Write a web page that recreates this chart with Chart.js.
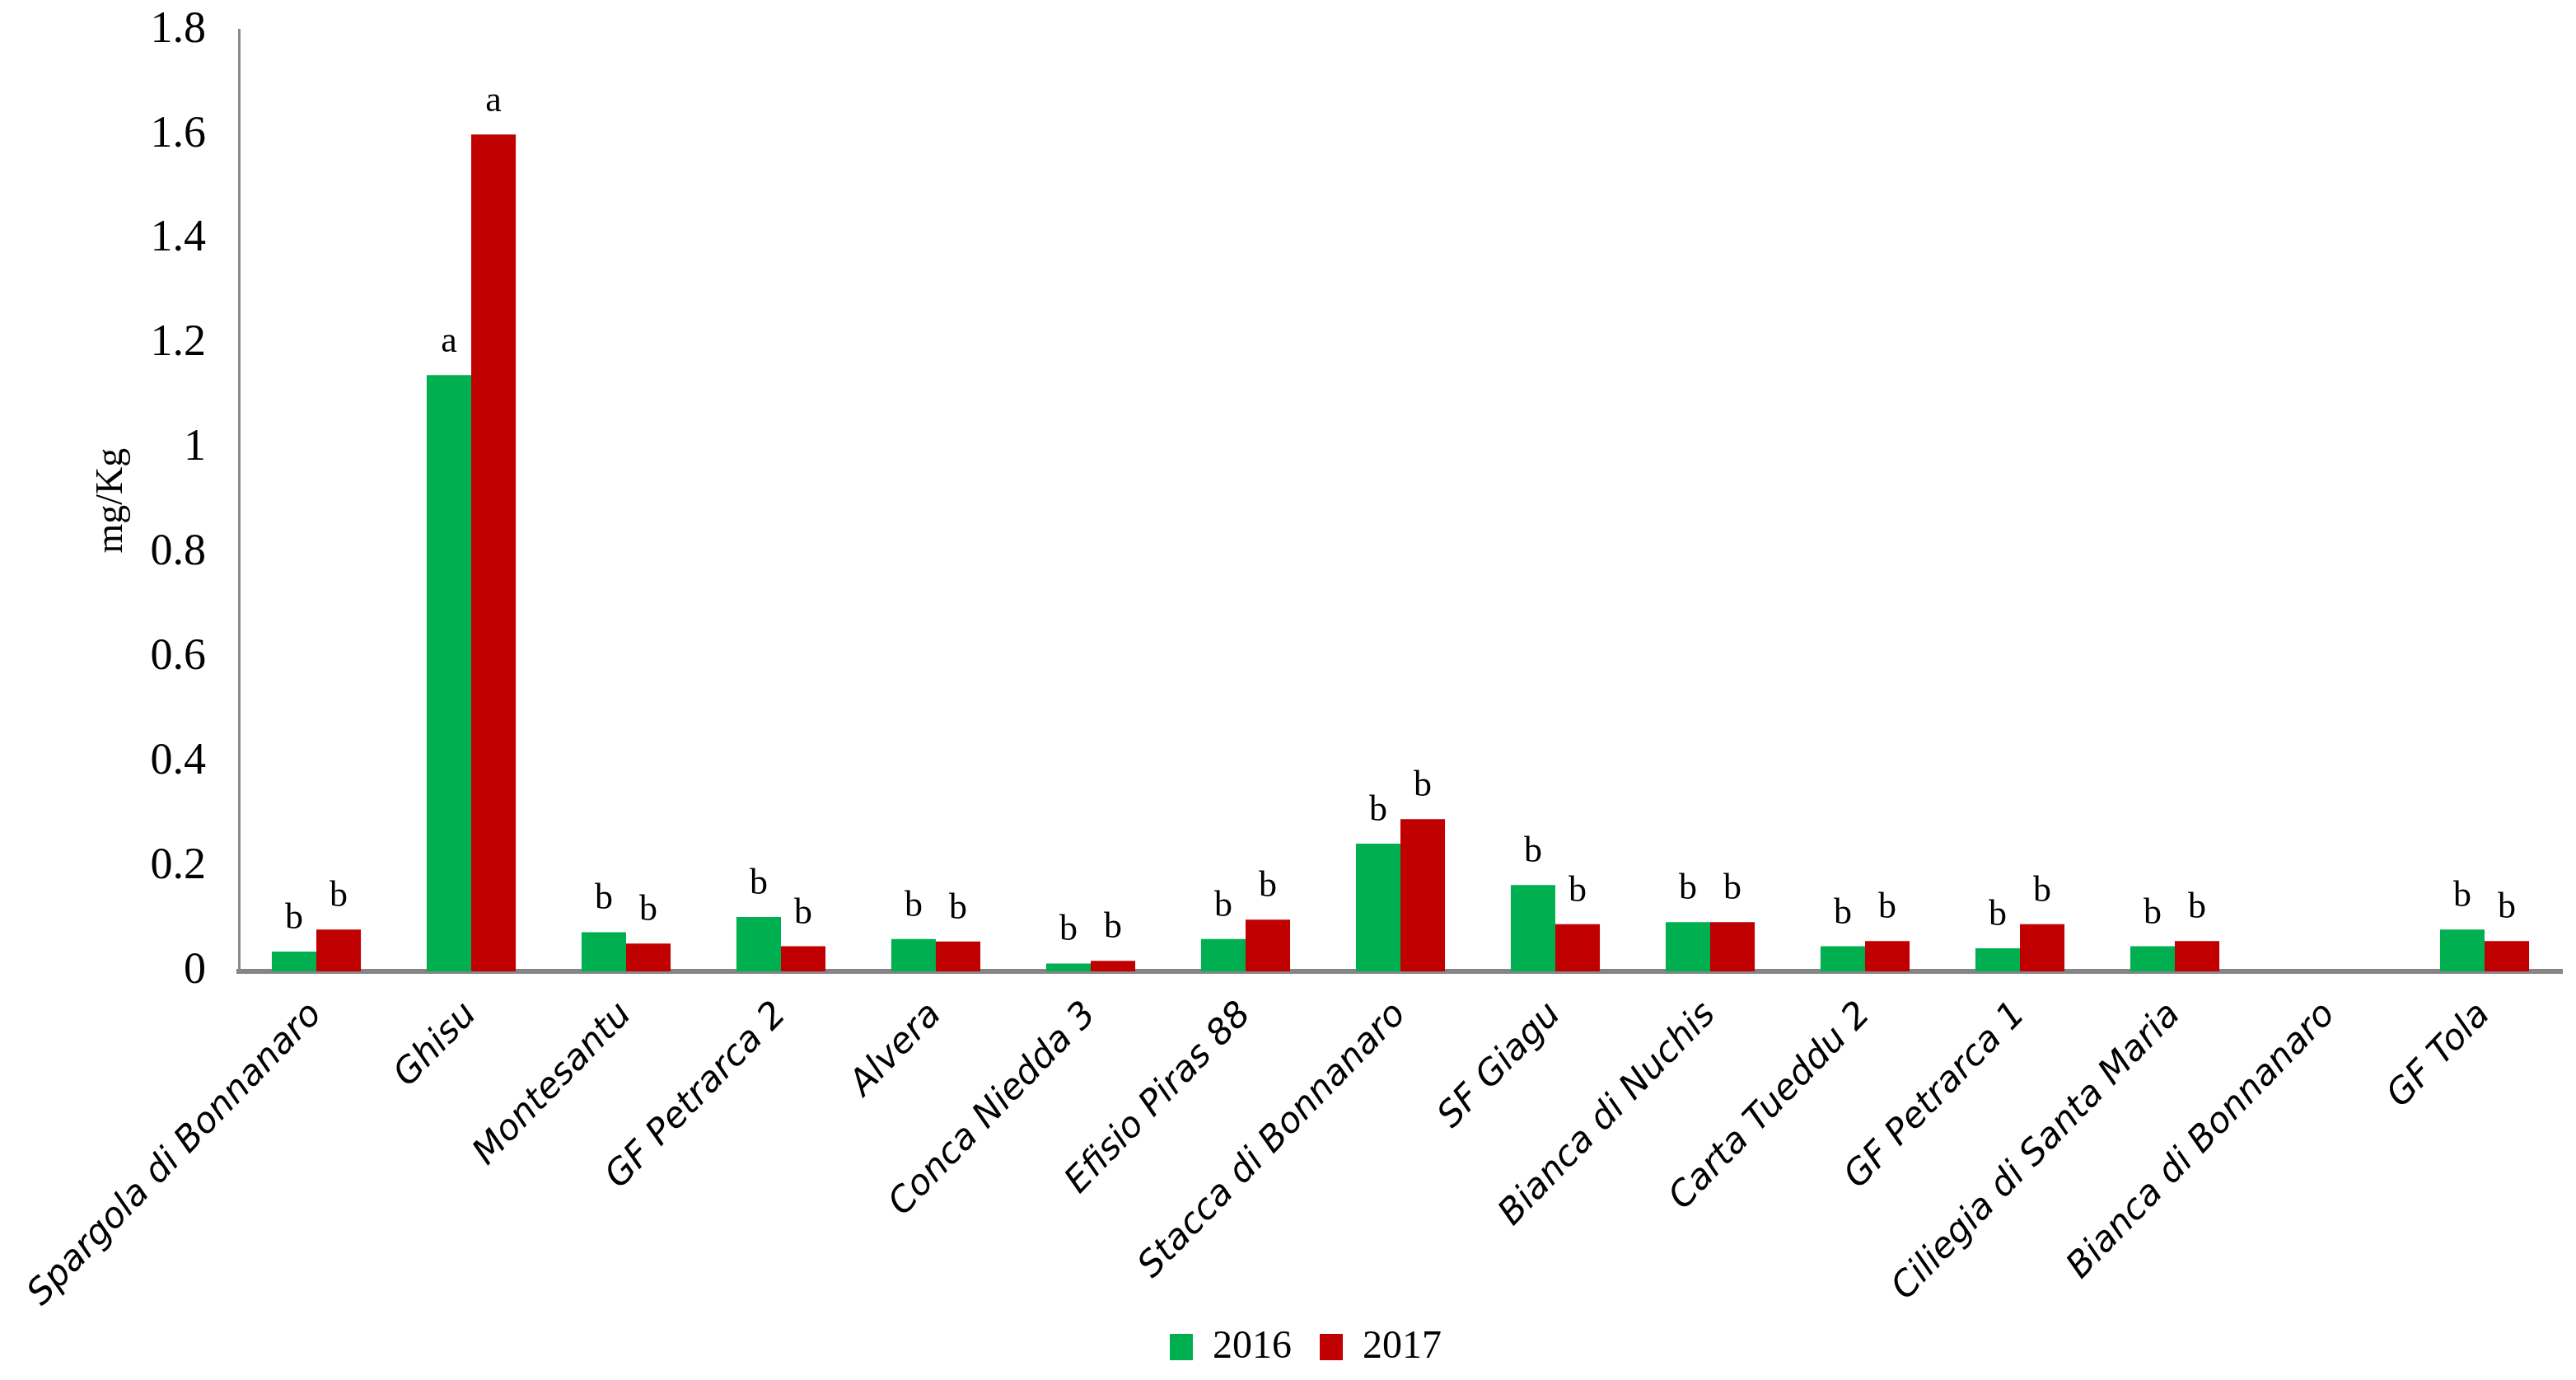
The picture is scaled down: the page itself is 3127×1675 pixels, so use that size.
<!DOCTYPE html>
<html>
<head>
<meta charset="utf-8">
<script src="https://cdn.jsdelivr.net/npm/chart.js@4.4.1/dist/chart.umd.min.js"></script>
<style>
  body { margin: 0; background: #fff; }
  canvas { display: block; }
</style>
</head>
<body>
<canvas id="myChart" width="3127" height="1675"></canvas>
<script>
const categories = ['Spargola di Bonnanaro', 'Ghisu', 'Montesantu', 'GF Petrarca 2', 'Alvera',
  'Conca Niedda 3', 'Efisio Piras 88', 'Stacca di Bonnanaro', 'SF Giagu', 'Bianca di Nuchis',
  'Carta Tueddu 2', 'GF Petrarca 1', 'Ciliegia di Santa Maria', 'Bianca di Bonnanaro', 'GF Tola'];
const values2016 = [0.038, 1.14, 0.075, 0.104, 0.062, 0.015, 0.062, 0.244, 0.165, 0.094, 0.048, 0.044, 0.048, null, 0.080];
const values2017 = [0.080, 1.60, 0.053, 0.048, 0.057, 0.020, 0.099, 0.291, 0.090, 0.094, 0.058, 0.090, 0.058, null, 0.058];
const letters2016 = ['b', 'a', 'b', 'b', 'b', 'b', 'b', 'b', 'b', 'b', 'b', 'b', 'b', '', 'b'];
const letters2017 = ['b', 'a', 'b', 'b', 'b', 'b', 'b', 'b', 'b', 'b', 'b', 'b', 'b', '', 'b'];

const SERIF = '"Liberation Serif", "Times New Roman", serif';

// little letters over each bar
const letterPlugin = {
    id: 'letters',
    afterLayout(chart) {
        // let the long rotated names run down to the legend without being clipped
        chart.scales.x.bottom = chart.height;
        // legend sits a bit right of centre in the original
        chart.legend.left += 20;
        chart.legend.right += 20;
    },
    afterDatasetsDraw(chart) {
        const ctx = chart.ctx;
        ctx.save();
        ctx.font = '44px ' + SERIF;
        ctx.fillStyle = '#000';
        ctx.textAlign = 'center';
        ctx.textBaseline = 'alphabetic';
        [letters2016, letters2017].forEach((lt, i) => {
            chart.getDatasetMeta(i).data.forEach((bar, j) => {
                if (!lt[j]) return;
                ctx.fillText(lt[j], bar.x, bar.y - 28);
            });
        });
        ctx.restore();
    }
};

const CTX = document.getElementById('myChart').getContext('2d');
const CONFIG = {
    type: 'bar',
    data: {
        labels: categories,
        datasets: [{
            label: '2016',
            data: values2016,
            backgroundColor: '#00B050'
        }, {
            label: '2017',
            data: values2017,
            backgroundColor: '#C00000'
        }]
    },
    options: {
        responsive: false,
        animation: false,
        devicePixelRatio: 1,
        layout: {
            padding: { left: 20, right: 17, top: 4, bottom: 6 }
        },
        datasets: {
            bar: { categoryPercentage: 0.575, barPercentage: 1.0 }
        },
        plugins: {
            legend: {
                position: 'bottom',
                labels: {
                    color: '#000',
                    font: { family: SERIF, size: 48 },
                    boxWidth: 28,
                    boxHeight: 32,
                    padding: 34
                }
            },
            tooltip: { enabled: false }
        },
        scales: {
            x: {
                grid: { display: false, drawTicks: false },
                border: { display: true, color: '#858585', width: 6 },
                ticks: {
                    color: '#000',
                    font: { family: '"DejaVu Sans", sans-serif', size: 43, style: 'italic' },
                    minRotation: 46,
                    maxRotation: 46,
                    autoSkip: false,
                    padding: 28
                },
                afterFit(scale) {
                    scale.height = 398;
                    scale.paddingLeft = 0;
                }
            },
            y: {
                min: 0,
                max: 1.8,
                grid: { display: false, drawTicks: true, tickLength: 36 },
                border: { display: true, color: '#8a8a8a', width: 3 },
                ticks: {
                    stepSize: 0.2,
                    color: '#000',
                    font: { family: SERIF, size: 54 },
                    padding: 4,
                    callback: v => String(Math.round(v * 10) / 10)
                },
                title: {
                    display: true,
                    text: 'mg/Kg',
                    color: '#000',
                    font: { family: SERIF, size: 46 },
                    padding: { top: 88, bottom: 0 }
                },
                afterFit(scale) { scale.width = 270; }
            }
        }
    },
    plugins: [letterPlugin]
};

const myChart = new Chart(CTX, CONFIG);
</script>
</body>
</html>
